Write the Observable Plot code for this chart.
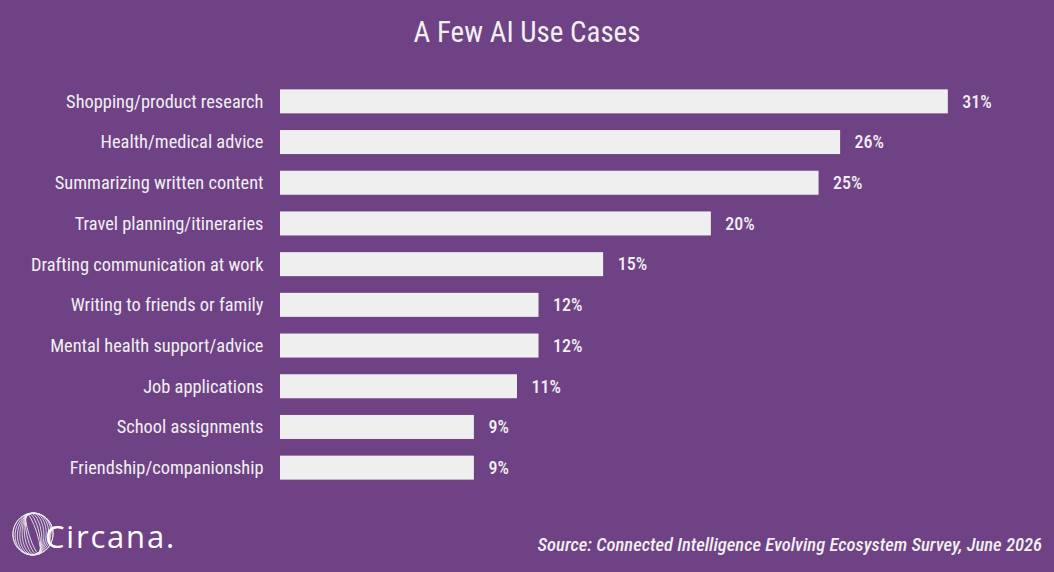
<!DOCTYPE html>
<html>
<head>
<meta charset="utf-8">
<script src="https://cdn.jsdelivr.net/npm/d3@7"></script>
<script src="https://cdn.jsdelivr.net/npm/@observablehq/plot@0.6"></script>
<style>
  html, body { margin: 0; padding: 0; }
  body { width: 1054px; height: 572px; background: #6f4185; overflow: hidden; }
  #frame { position: relative; width: 1054px; height: 572px; font-family: "Roboto Condensed", "Liberation Sans Narrow", Roboto, sans-serif; color: #f0f0f0; }
  #title { position: absolute; top: 12px; left: 0; width: 1054px; text-align: center; font-size: 29px; line-height: 40px; }
  #chart { position: absolute; top: 60px; left: 0; }
  #source { position: absolute; right: 12px; top: 532px; font-size: 18.6px; font-style: italic; font-weight: 500; line-height: 26px; }
  #logo { position: absolute; left: 12px; top: 510px; }
</style>
</head>
<body>
<div id="frame">
  <div id="title">A Few AI Use Cases</div>
  <div id="chart"></div>
  <div id="source">Source: Connected Intelligence Evolving Ecosystem Survey, June 2026</div>
  <svg id="logo" width="180" height="50" viewBox="0 0 180 50"></svg>
</div>
<script>
// Share of respondents using AI for each task (%)
const useCases = [
  "Shopping/product research",
  "Health/medical advice",
  "Summarizing written content",
  "Travel planning/itineraries",
  "Drafting communication at work",
  "Writing to friends or family",
  "Mental health support/advice",
  "Job applications",
  "School assignments",
  "Friendship/companionship"
];
const shares = [31, 26, 25, 20, 15, 12, 12, 11, 9, 9];

const rows = useCases.map((name, i) => ({name, share: shares[i]}));

const chart = Plot.plot({
  width: 1054,
  height: 440,
  marginTop: 21,
  marginBottom: 12,
  marginLeft: 280,
  marginRight: 20,
  style: {background: "transparent", color: "#f0f0f0", fontFamily: "\"Roboto Condensed\", \"Liberation Sans Narrow\", Roboto, sans-serif"},
  x: {domain: [0, 35], axis: null},
  y: {domain: useCases, paddingInner: 0.41, paddingOuter: 0.205, round: false, label: null},
  marks: [
    Plot.barX(rows, {x: "share", y: "name", fill: "#efefef"}),
    Plot.axisY({tickSize: 0, tickPadding: 17, fontSize: 18.4, fontWeight: 400, fill: "#f0f0f0", stroke: "#f0f0f0", strokeWidth: 0.35}),
    Plot.text(rows, {x: "share", y: "name", text: d => `${d.share}%`, textAnchor: "start", dx: 14, fontSize: 18, fontWeight: 500, fill: "#f0f0f0"})
  ]
});
document.getElementById("chart").append(chart);

// Circana logo: wireframe globe and wordmark
const logo = d3.select("#logo");
const g = logo.append("g").attr("transform", "translate(21,24)").attr("fill", "none").attr("stroke", "#f0f0f0").attr("stroke-width", 0.8);
d3.range(0, 8).forEach(k => {
  g.append("ellipse").attr("rx", 4 + k * 2.3).attr("ry", 21).attr("transform", `rotate(${(k - 3.5) * 5})`);
});
g.append("ellipse").attr("rx", 20).attr("ry", 21);
logo.append("text").attr("x", 33).attr("y", 38).attr("fill", "#ffffff")
  .attr("font-family", "'Open Sans', sans-serif").attr("font-size", 31).attr("font-weight", 500)
  .attr("letter-spacing", 1.8)
  .text("Circana.");
</script>
</body>
</html>
